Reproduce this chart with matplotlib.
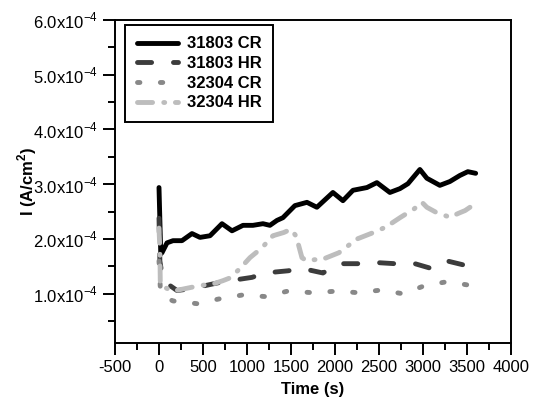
import numpy as np
import matplotlib
matplotlib.use("Agg")
import matplotlib.pyplot as plt
from matplotlib.ticker import MultipleLocator

plt.rcParams['font.family'] = ['Liberation Sans', 'DejaVu Sans']
plt.rcParams['mathtext.fontset'] = 'custom'
plt.rcParams['mathtext.rm'] = 'Liberation Sans'
plt.rcParams['mathtext.bf'] = 'Liberation Sans:bold'
plt.rcParams['axes.unicode_minus'] = False

# current density in units of 1e-4 A/cm2, time in s
t_31803_cr = [0, 20, 34, 91, 159, 261, 375, 466, 580, 716, 830, 955, 1068, 1182, 1261, 1341,
              1409, 1545, 1682, 1795, 1977, 2091, 2205, 2364, 2477, 2625, 2739, 2830, 2966,
              3045, 3193, 3307, 3420, 3511, 3600]
i_31803_cr = [2.94, 1.73, 1.75, 1.93, 1.97, 1.97, 2.10, 2.03, 2.06, 2.28, 2.15, 2.25, 2.25, 2.28,
              2.25, 2.34, 2.39, 2.61, 2.67, 2.58, 2.85, 2.70, 2.89, 2.94, 3.03, 2.85, 2.92, 3.01,
              3.27, 3.11, 2.98, 3.05, 3.16, 3.23, 3.20]

t_31803_hr = [0, 10, 45, 205, 352, 727, 1057, 1205, 1466, 1636, 1864, 2034, 2307, 2477, 2682,
              2909, 3080, 3250, 3455, 3600]
i_31803_hr = [2.38, 1.60, 1.24, 1.06, 1.09, 1.22, 1.30, 1.38, 1.42, 1.46, 1.38, 1.55, 1.55, 1.57,
              1.55, 1.55, 1.47, 1.61, 1.53, 1.61]

t_32304_cr = [0, 15, 45, 160, 432, 693, 955, 1205, 1466, 1750, 2034, 2261, 2534, 2773, 3023,
              3273, 3557, 3600]
i_32304_cr = [1.60, 1.10, 0.95, 0.87, 0.82, 0.91, 0.98, 0.95, 1.05, 1.02, 1.05, 1.02, 1.07, 1.00,
              1.15, 1.22, 1.15, 1.15]

t_32304_hr = [0, 10, 15, 160, 466, 614, 727, 807, 920, 1034, 1170, 1295, 1420, 1500, 1560, 1625,
              1680, 1750, 1875, 2045, 2250, 2440, 2580, 2740, 2900, 2990, 3045, 3170, 3307, 3420,
              3480, 3600]
i_32304_hr = [2.20, 1.80, 1.15, 1.05, 1.15, 1.18, 1.24, 1.29, 1.46, 1.66, 1.84, 2.06, 2.12, 2.18,
              2.05, 1.66, 1.60, 1.62, 1.64, 1.75, 2.00, 2.12, 2.22, 2.39, 2.55, 2.67, 2.58, 2.47,
              2.40, 2.48, 2.52, 2.65]

y_ticks = [1.0, 2.0, 3.0, 4.0, 5.0, 6.0]
y_tick_labels = [r'%.1fx10$^{\mathregular{-4}}$' % v for v in y_ticks]
x_ticks = [-500, 0, 500, 1000, 1500, 2000, 2500, 3000, 3500, 4000]

fig = plt.figure(figsize=(5.4, 4.07), dpi=100)
ax = fig.add_axes([0.213, 0.157, 0.733, 0.794])

lw = 3.5
ax.plot(t_31803_cr, np.array(i_31803_cr) * 1e-4, color='black', lw=lw,
        solid_capstyle='round', solid_joinstyle='round', label='31803 CR')
ax.plot(t_31803_hr, np.array(i_31803_hr) * 1e-4, color='#3c3c3c', lw=lw,
        dashes=(2.9, 4.5), dash_capstyle='round', label='31803 HR')
ax.plot(t_32304_cr, np.array(i_32304_cr) * 1e-4, color='#888888', lw=lw,
        dashes=(0.5, 4.2), dash_capstyle='round', label='32304 CR')
ax.plot(t_32304_hr, np.array(i_32304_hr) * 1e-4, color='#bdbdbd', lw=lw,
        dashes=(3.1, 2.3, 0.2, 2.2), dash_capstyle='round', label='32304 HR')

ax.set_xlim(-500, 4000)
ax.set_ylim(0.1e-4, 6.0e-4)
ax.set_xticks(x_ticks)
ax.set_yticks(np.array(y_ticks) * 1e-4)
ax.set_yticklabels(y_tick_labels)
ax.xaxis.set_minor_locator(MultipleLocator(250))
ax.yaxis.set_minor_locator(MultipleLocator(0.5e-4))
ax.tick_params(which='major', direction='out', length=8.5, width=1.4, labelsize=12,
               top=False, right=False)
ax.tick_params(which='minor', direction='out', length=5, width=1.4, top=False, right=False)
for sp in ax.spines.values():
    sp.set_linewidth(1.4)

ax.set_xlabel('Time (s)', fontsize=12, fontweight='bold', labelpad=5)
ax.set_ylabel(r'I (A/cm$^\mathbf{2}$)', fontsize=12, fontweight='bold', labelpad=-4)

leg = ax.legend(loc='upper left', bbox_to_anchor=(0.025, 0.985), borderaxespad=0,
                prop={'size': 12, 'weight': 'bold'}, handlelength=2.5, handletextpad=0.5,
                labelspacing=0.28, fancybox=False, framealpha=1, edgecolor='black',
                borderpad=0.7)
leg.get_frame().set_linewidth(1.4)

fig.savefig('out.png', dpi=100)
